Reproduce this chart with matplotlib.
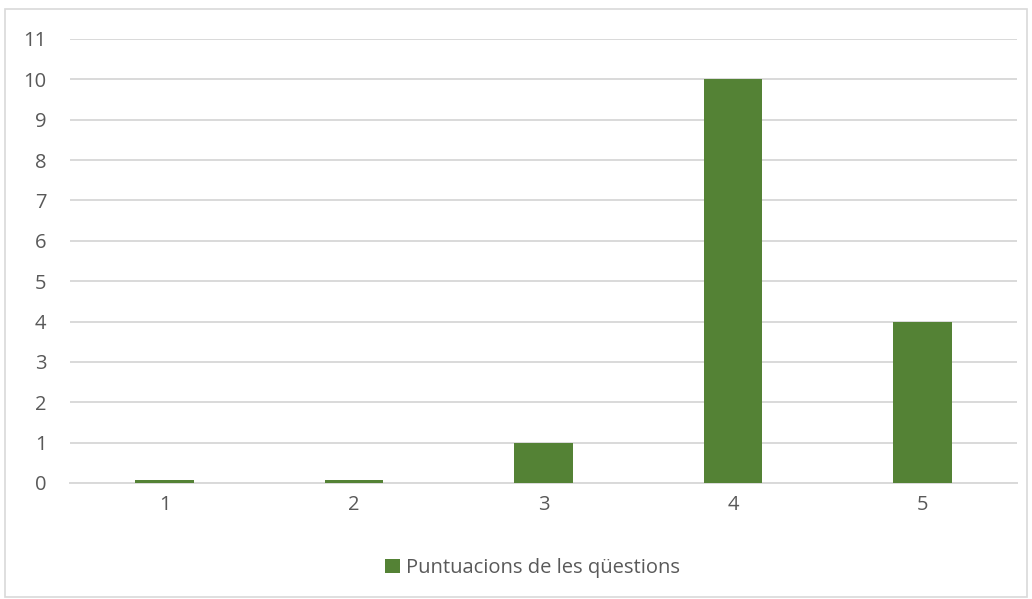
import matplotlib
matplotlib.use("Agg")
import matplotlib.pyplot as plt
from matplotlib.patches import Rectangle

# data
categories = ["1", "2", "3", "4", "5"]
values = [0.08, 0.08, 1, 10, 4]
series_name = "Puntuacions de les qüestions"
yticks = list(range(0, 12))

plt.rcParams["font.family"] = ["Open Sans", "DejaVu Sans"]

fig = plt.figure(figsize=(10.32, 5.99), dpi=100)
ax = fig.add_axes([0.0678, 0.1937, 0.9177, 0.7412])

x = list(range(len(categories)))
ax.bar(x, values, width=0.31, color="#548235", label=series_name, zorder=3)

ax.set_xlim(-0.5, len(categories) - 0.5)
ax.set_ylim(0, 11)
ax.set_yticks(yticks)
ax.set_xticks(x)
ax.set_xticklabels(categories)
ax.yaxis.grid(True, color="#d9d9d9", linewidth=1.4, zorder=0)
for s in ["top", "right", "left"]:
    ax.spines[s].set_visible(False)
ax.spines["bottom"].set_color("#d9d9d9")
ax.spines["bottom"].set_linewidth(1.4)
ax.tick_params(axis="both", length=0, labelsize=14.5, labelcolor="#595959")
ax.tick_params(axis="y", pad=17)
ax.tick_params(axis="x", pad=9)

leg = fig.legend(loc="center", bbox_to_anchor=(0.516, 0.052), frameon=False,
                 fontsize=14.5, handlelength=0.7, handleheight=0.7, handletextpad=0.3)
for t in leg.get_texts():
    t.set_color("#595959")

# outer chart border
fig.patches.append(Rectangle((5 / 1032, 2 / 599), 1022 / 1032, 588 / 599,
                             transform=fig.transFigure, fill=False,
                             edgecolor="#d9d9d9", linewidth=1.2))

fig.savefig("out.png", dpi=100)
